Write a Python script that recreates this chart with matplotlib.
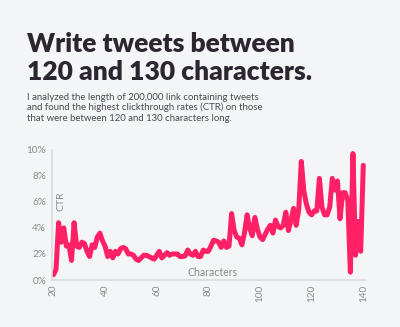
import matplotlib
matplotlib.use("Agg")
import matplotlib.pyplot as plt
import numpy as np

# CTR (%) by tweet length in characters
chars = np.arange(20, 141)
ctr = [0.4, 0.8, 4.4, 2.9, 4.0, 2.6, 2.7, 1.5, 4.4, 2.6,
       2.5, 2.9, 2.8, 2.2, 1.8, 2.7, 2.5, 3.3, 3.6, 3.0,
       2.6, 1.8, 2.2, 1.7, 2.2, 2.0, 2.4, 2.5, 2.4, 2.0,
       2.0, 1.9, 1.6, 1.5, 1.7, 1.9, 1.9, 1.8, 1.7, 1.6,
       1.9, 2.2, 1.7, 1.9, 2.1, 1.9, 2.0, 2.0, 2.0, 1.8,
       1.8, 1.85, 2.3, 2.0, 1.9, 2.2, 1.8, 1.8, 2.3, 2.2,
       2.2, 2.6, 3.05, 3.0, 2.9, 2.5, 3.0, 2.5, 2.6, 5.1,
       3.8, 3.3, 3.2, 2.7, 3.6, 5.0, 4.0, 3.4, 4.8, 3.9,
       3.3, 3.1, 3.5, 3.9, 4.2, 3.6, 4.6, 4.1, 4.0, 4.2,
       5.2, 3.8, 4.6, 5.5, 4.2, 5.4, 9.1, 6.8, 5.8, 5.2,
       5.0, 5.3, 5.3, 7.8, 5.6, 5.0, 5.0, 5.6, 7.8, 6.9,
       7.6, 4.7, 6.7, 6.7, 6.1, 0.6, 9.7, 1.9, 4.5, 2.2,
       8.8]

xticks = [20, 40, 60, 80, 100, 120, 140]
yticks = [0, 2, 4, 6, 8, 10]

title_lines = ["Write tweets between", "120 and 130 characters."]
sub_lines = ["I analyzed the length of 200,000 link containing tweets",
             "and found the highest clickthrough rates (CTR) on those",
             "that were between 120 and 130 characters long."]

bg = '#f4f5f7'
pink = '#ff2066'
grey = '#8a8a90'
H = 327.0

fig = plt.figure(figsize=(4, 3.27), dpi=100, facecolor=bg)

# title and intro, one text per line (baselines in pixels from the top)
for line, base in zip(title_lines, [52.5, 80.5]):
    fig.text(0.0675, 1 - base / H, line, family='Lato', weight='heavy',
             fontsize=19, color='#2b2630', va='baseline', ha='left')
for line, base in zip(sub_lines, [99.5, 110.3, 121.0]):
    fig.text(0.0675, 1 - base / H, line, family='Lato', fontsize=6.9,
             color='#4a4a50', va='baseline', ha='left')

ax = fig.add_axes([0.131, 0.1437, 0.783, 0.3985])
ax.set_facecolor(bg)
ax.plot(chars, ctr, color=pink, lw=3.6, solid_joinstyle='round',
        solid_capstyle='round')

ax.set_xlim(19.6, 140.9)
ax.set_ylim(0, 10)
ax.set_xticks(xticks)
ax.set_xticklabels([str(t) for t in xticks], rotation=90)
ax.set_yticks(yticks)
ax.set_yticklabels([f"{t}%" for t in yticks])
ax.tick_params(length=0, labelsize=7.2, labelcolor=grey)
ax.tick_params(axis='y', pad=4.5)
ax.tick_params(axis='x', pad=3.5)
for lab in ax.get_xticklabels() + ax.get_yticklabels():
    lab.set_family('Lato')

for s in ['top', 'right']:
    ax.spines[s].set_visible(False)
for s in ['left', 'bottom']:
    ax.spines[s].set_color('#d9dbdf')
    ax.spines[s].set_linewidth(1.2)

ax.text(0.0265, 0.53, "CTR", transform=ax.transAxes, rotation=90,
        family='Lato', fontsize=7.5, color=grey, ha='center', va='bottom')
ax.text(0.511, 0.012, "Characters", transform=ax.transAxes,
        family='Lato', fontsize=7.6, color=grey, ha='center', va='bottom')

fig.savefig('out.png', dpi=100, facecolor=bg)
